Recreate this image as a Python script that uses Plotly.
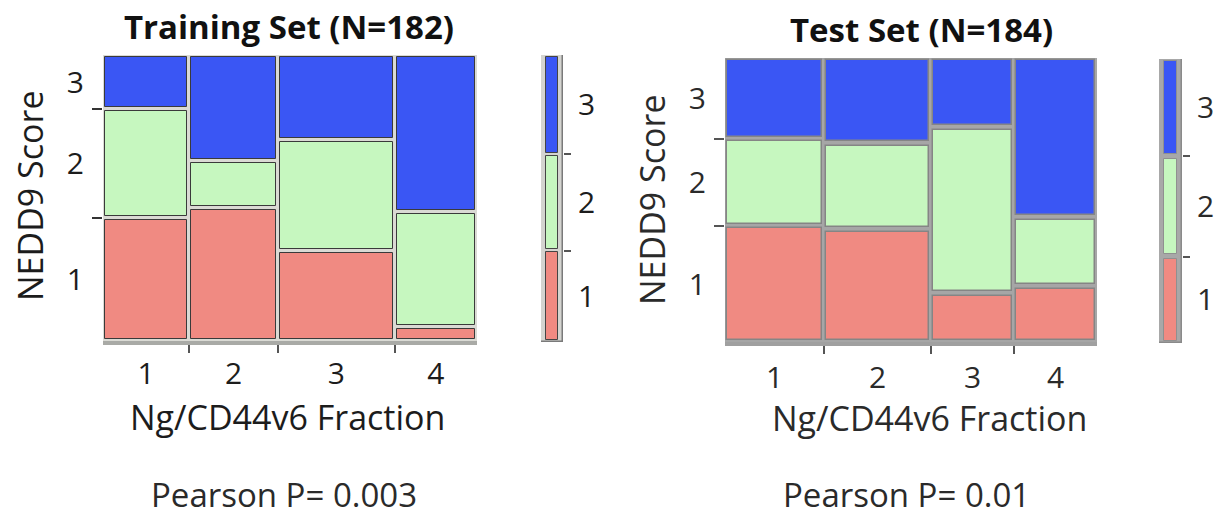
import plotly.graph_objects as go

# ---------------- data (counts read from the mosaic) ----------------
score_levels = ["1", "2", "3"]
fraction_labels = ["1", "2", "3", "4"]
train_score1 = [18, 20, 18, 2]
train_score2 = [16, 7, 22, 16]
train_score3 = [8, 16, 17, 22]
test_score1 = [20, 21, 7, 8]
test_score2 = [15, 16, 24, 10]
test_score3 = [14, 16, 10, 23]
pearson_train = "0.003"
pearson_test = "0.01"

score_colors = {"1": "#f08a82", "2": "#c6f7bf", "3": "#3a56f4"}

W, H = 1219, 516
FONT = "Open Sans"


def dom_x(a, b):
    return [a / W, b / W]


def dom_y(top, bottom):
    return [(H - bottom) / H, (H - top) / H]


fig = go.Figure()


def add_mosaic(counts, xa, ya, xl, yl, line_color, line_w, padx, pady):
    ncol = len(counts[0])
    totals = [sum(c[j] for c in counts) for j in range(ncol)]
    N = sum(totals)
    xb = [0.0]
    for t in totals:
        xb.append(xb[-1] + t / N)
    bottoms = [0.0] * ncol
    col1_bounds = [0.0]
    for s, c in zip(score_levels, counts):
        xs, ws, bs, hs = [], [], [], []
        for j in range(ncol):
            p = c[j] / totals[j]
            y0, y1 = bottoms[j], bottoms[j] + p
            bottoms[j] = y1
            xs.append((xb[j] + xb[j + 1]) / 2)
            ws.append(xb[j + 1] - xb[j] - 2 * padx)
            bs.append(y0 + pady)
            hs.append(max(p - 2 * pady, 0.002))
        col1_bounds.append(bottoms[0])
        fig.add_trace(go.Bar(
            x=xs, y=hs, base=bs, width=ws, xaxis=xl, yaxis=yl,
            marker=dict(color=score_colors[s], line=dict(color=line_color, width=line_w)),
            showlegend=False, hoverinfo="skip"))
    centers_x = [(xb[j] + xb[j + 1]) / 2 for j in range(ncol)]
    centers_y = [(col1_bounds[k] + col1_bounds[k + 1]) / 2 for k in range(3)]
    margins = [sum(c) / N for c in counts]
    return xb, centers_x, col1_bounds, centers_y, margins, N


def add_legend_bar(margins, xl, yl, frame_color, frame_line, seg_line, pady):
    fig.add_trace(go.Bar(
        x=[0.5], y=[1.0], base=[0.0], width=[1.0], xaxis=xl, yaxis=yl,
        marker=dict(color=frame_color, line=dict(color=frame_line, width=1.5)),
        showlegend=False, hoverinfo="skip"))
    b = 0.0
    bounds = [0.0]
    for s, m in zip(score_levels, margins):
        fig.add_trace(go.Bar(
            x=[0.5], y=[m - 2 * pady], base=[b + pady], width=[0.55], xaxis=xl, yaxis=yl,
            marker=dict(color=score_colors[s], line=dict(color=seg_line, width=1)),
            showlegend=False, hoverinfo="skip"))
        b += m
        bounds.append(b)
    centers = [(bounds[k] + bounds[k + 1]) / 2 for k in range(3)]
    return bounds, centers


train = [train_score1, train_score2, train_score3]
test = [test_score1, test_score2, test_score3]

# ---- training panel ----
xb1, cx1, yb1, cy1, mg1, N1 = add_mosaic(train, "x", "y", "x", "y", "#3a3a3a", 1, 0.0053, 0.007)
lb1, lc1 = add_legend_bar(mg1, "x2", "y2", "#d4d4d0", "#7a7a7a", "#444444", 0.006)
# ---- test panel ----
xb2, cx2, yb2, cy2, mg2, N2 = add_mosaic(test, "x3", "y3", "x3", "y3", "#858585", 1.5, 0.0055, 0.008)
lb2, lc2 = add_legend_bar(mg2, "x4", "y4", "#a8a8a8", "#8a8a8a", "#909090", 0.008)

tick_font = dict(family=FONT, size=30, color="#1c1c1c")
tick_font2 = dict(family=FONT, size=30, color="#2a2a2a")


def main_axes(xb, cx, yb, cy, xdom, ydom, anchor_x, anchor_y, axis_col, font, ytick_col, xstand):
    xa = dict(domain=xdom, range=[0, 1], anchor=anchor_y, showgrid=False, zeroline=False,
              showline=True, linecolor=axis_col, linewidth=4,
              tickmode="array", tickvals=cx, ticktext=fraction_labels, ticks="",
              ticklabelstandoff=xstand, tickfont=font,
              minor=dict(tickmode="array", tickvals=xb[1:-1], ticks="outside", ticklen=8,
                         tickwidth=2, tickcolor="#555555", showgrid=False))
    ya = dict(domain=ydom, range=[0, 1], anchor=anchor_x, showgrid=False, zeroline=False,
              showline=False, tickmode="array", tickvals=cy, ticktext=score_levels, ticks="",
              ticklabelstandoff=18, tickfont=font,
              minor=dict(tickmode="array", tickvals=yb[1:-1], ticks="outside", ticklen=10,
                         tickwidth=1.5, tickcolor=ytick_col, showgrid=False))
    return xa, ya


def legend_axes(bounds, centers, xdom, ydom, anchor_x, anchor_y, font):
    xa = dict(domain=xdom, range=[0, 1], anchor=anchor_y, visible=False)
    ya = dict(domain=ydom, range=[0, 1], anchor=anchor_x, side="right", showgrid=False,
              zeroline=False, showline=False, tickmode="array", tickvals=centers,
              ticktext=score_levels, ticks="", ticklabelstandoff=14, tickfont=font,
              minor=dict(tickmode="array", tickvals=bounds[1:-1], ticks="outside", ticklen=7,
                         tickwidth=1.5, tickcolor="#555555", showgrid=False))
    return xa, ya


xa1, ya1 = main_axes(xb1, cx1, yb1, cy1, dom_x(103, 477), dom_y(55, 341), "x", "y",
                     "#a9aaa6", tick_font, "#333333", 3)
xa2, ya2 = legend_axes(lb1, lc1, dom_x(541, 563), dom_y(55, 342), "x2", "y2", tick_font)
xa3, ya3 = main_axes(xb2, cx2, yb2, cy2, dom_x(725, 1097), dom_y(58, 342), "x3", "y3",
                     "#a0a0a0", tick_font2, "#555555", 6)
xa4, ya4 = legend_axes(lb2, lc2, dom_x(1159, 1182), dom_y(59, 343), "x4", "y4", tick_font2)

for xr, yr, col in [("x", "y", "#dadad4"), ("x3", "y3", "#a6a6a6")]:
    fig.add_shape(type="rect", xref=xr + " domain", yref=yr + " domain", x0=0, x1=1, y0=0, y1=1,
                  fillcolor=col, line=dict(width=0), layer="below")

ann = []


def text(x, y, s, size, color, bold=False, angle=0):
    ann.append(dict(x=x / W, y=(H - y) / H, xref="paper", yref="paper", text=s,
                    showarrow=False, textangle=angle, xanchor="center", yanchor="middle",
                    font=dict(family=FONT, size=size, color=color,
                              weight="bold" if bold else "normal")))


text(289, 27, f"Training Set (N={N1})", 33, "#111111", bold=True)
text(921, 30, f"Test Set (N={N2})", 33, "#111111", bold=True)
text(30, 196, "NEDD9 Score", 34, "#1c1c1c", angle=-90)
text(652, 200, "NEDD9 Score", 34, "#2a2a2a", angle=-90)
text(287, 417, "Ng/CD44v6 Fraction", 34, "#1c1c1c")
text(929, 418, "Ng/CD44v6 Fraction", 34, "#2a2a2a")
text(284, 494, f"Pearson P= {pearson_train}", 33, "#2a2a2a")
text(906, 494, f"Pearson P= {pearson_test}", 33, "#2a2a2a")

fig.update_layout(
    width=W, height=H, margin=dict(l=0, r=0, t=0, b=0),
    paper_bgcolor="white", plot_bgcolor="rgba(0,0,0,0)",
    barmode="overlay", bargap=0,
    xaxis=xa1, yaxis=ya1, xaxis2=xa2, yaxis2=ya2,
    xaxis3=xa3, yaxis3=ya3, xaxis4=xa4, yaxis4=ya4,
    annotations=ann, font=dict(family=FONT),
)

fig.write_html("out.html", config={"displayModeBar": False},
               post_script="document.body.style.margin='0px';document.body.style.overflow='hidden';")
